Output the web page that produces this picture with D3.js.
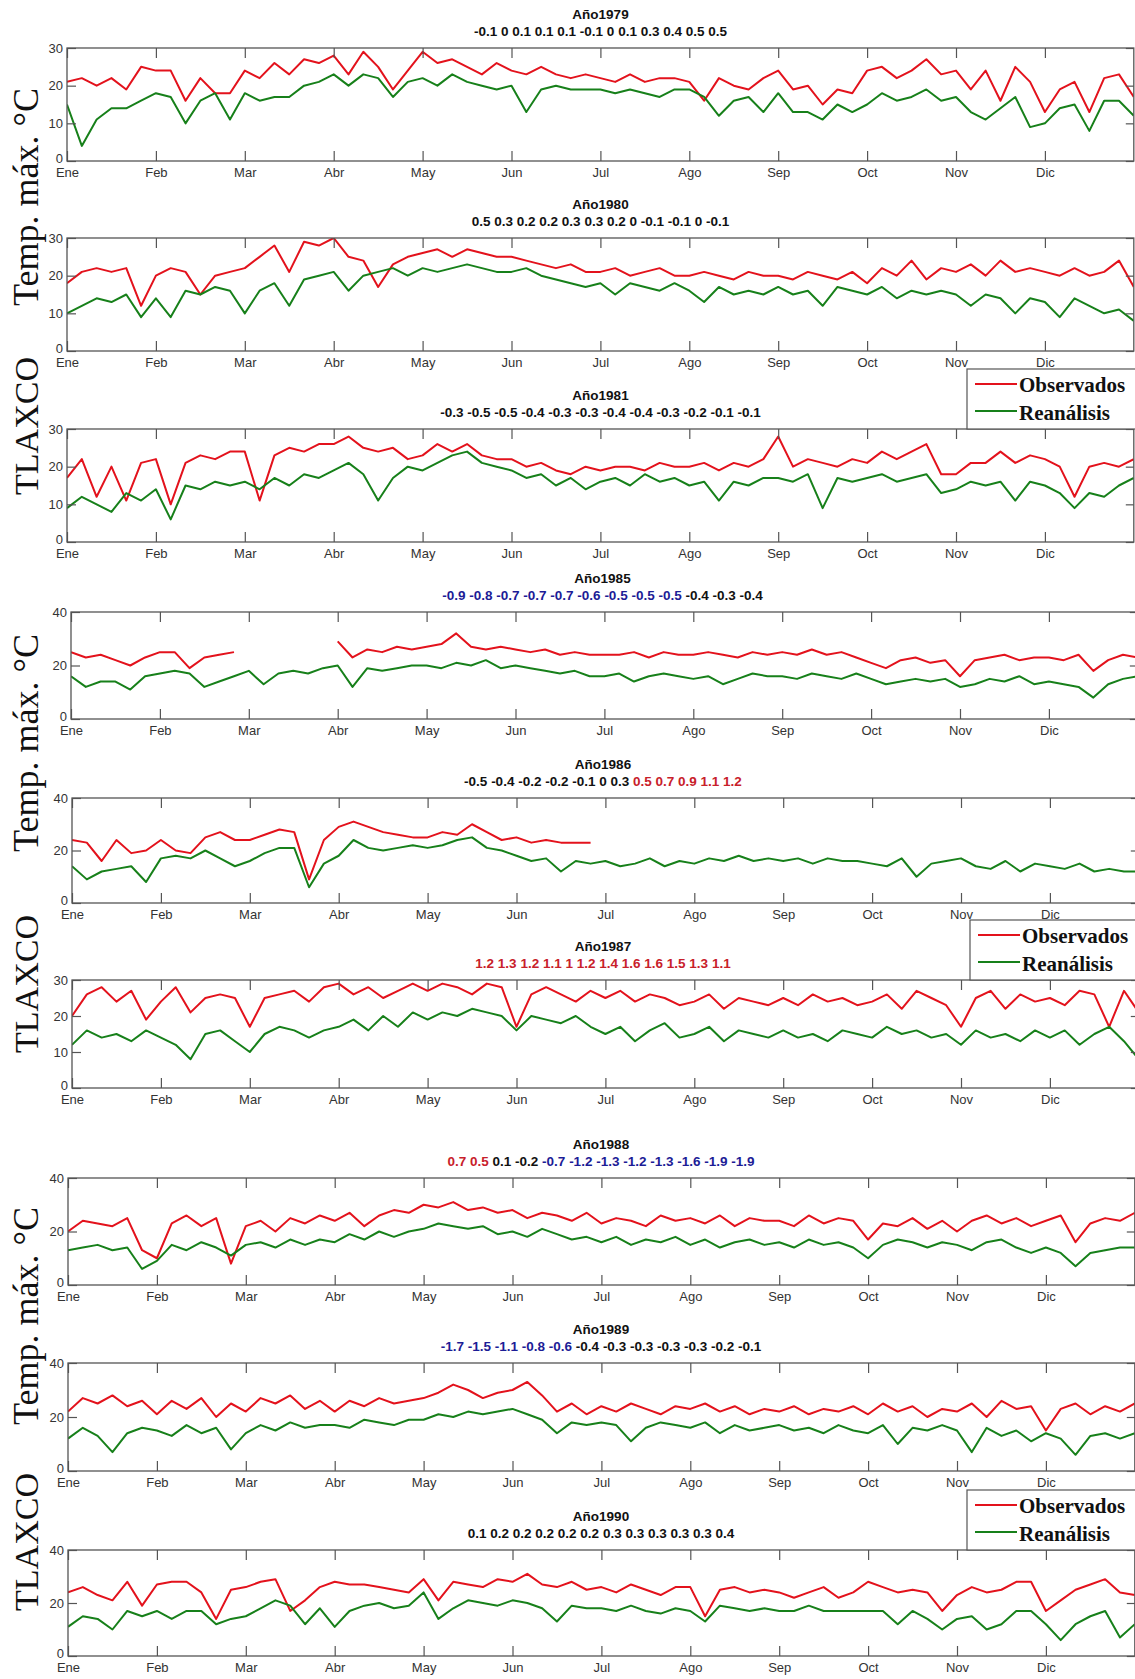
<!DOCTYPE html>
<html>
<head>
<meta charset="utf-8">
<script src="https://cdn.jsdelivr.net/npm/d3@7"></script>
<style>
  html, body { margin: 0; padding: 0; background: #fff; }
  svg { display: block; }
  .tick text { font-family: Arial, "Liberation Sans", sans-serif; font-size: 13px; fill: #333; }
  .tick line { stroke: #555; stroke-width: 1.2; }
</style>
</head>
<body>
<svg id="chart" width="1135" height="1679"></svg>
<script>
// Month labels of the x axis
const months = ["Ene","Feb","Mar","Abr","May","Jun","Jul","Ago","Sep","Oct","Nov","Dic"];
const years = [1979, 1980, 1981, 1985, 1986, 1987, 1988, 1989, 1990];

// Monthly index values printed under each year title, with their tone
// (n = neutral, w = warm, c = cold)
const idx1979 = ["-0.1","0","0.1","0.1","0.1","-0.1","0","0.1","0.3","0.4","0.5","0.5"];
const tone1979 = "nnnnnnnnnnnn";
const idx1980 = ["0.5","0.3","0.2","0.2","0.3","0.3","0.2","0","-0.1","-0.1","0","-0.1"];
const tone1980 = "nnnnnnnnnnnn";
const idx1981 = ["-0.3","-0.5","-0.5","-0.4","-0.3","-0.3","-0.4","-0.4","-0.3","-0.2","-0.1","-0.1"];
const tone1981 = "nnnnnnnnnnnn";
const idx1985 = ["-0.9","-0.8","-0.7","-0.7","-0.7","-0.6","-0.5","-0.5","-0.5","-0.4","-0.3","-0.4"];
const tone1985 = "cccccccccnnn";
const idx1986 = ["-0.5","-0.4","-0.2","-0.2","-0.1","0","0.3","0.5","0.7","0.9","1.1","1.2"];
const tone1986 = "nnnnnnnwwwww";
const idx1987 = ["1.2","1.3","1.2","1.1","1","1.2","1.4","1.6","1.6","1.5","1.3","1.1"];
const tone1987 = "wwwwwwwwwwww";
const idx1988 = ["0.7","0.5","0.1","-0.2","-0.7","-1.2","-1.3","-1.2","-1.3","-1.6","-1.9","-1.9"];
const tone1988 = "wwnncccccccc";
const idx1989 = ["-1.7","-1.5","-1.1","-0.8","-0.6","-0.4","-0.3","-0.3","-0.3","-0.3","-0.2","-0.1"];
const tone1989 = "cccccnnnnnnn";
const idx1990 = ["0.1","0.2","0.2","0.2","0.2","0.2","0.3","0.3","0.3","0.3","0.3","0.4"];
const tone1990 = "nnnnnnnnnnnn";

// Daily maximum temperature (°C), sampled every ~5 days from January to December.
// obs = station observations, rea = reanalysis. null = no observation.
const obs1979 = [21,22,20,22,19,25, 24,24,16,22,18,18, 24,22,26,23,27,26, 28,23,29,25,19,24,
  29,26,27,25,23,26, 24,23,25,23,22,23, 22,21,23,21,22,22, 21,16,22,20,19,22,
  24,19,20,15,19,18, 24,25,22,24,27,23, 24,19,24,16,25,21, 13,19,21,13,22,23,17];
const rea1979 = [15,4,11,14,14,16, 18,17,10,16,18,11, 18,16,17,17,20,21, 23,20,23,22,17,21,
  22,20,23,21,20,19, 20,13,19,20,19,19, 19,18,19,18,17,19, 19,17,12,16,17,13,
  18,13,13,11,15,13, 15,18,16,17,19,16, 17,13,11,14,17,9, 10,14,15,8,16,16,12];

const obs1980 = [18,21,22,21,22,12, 20,22,21,15,20,21, 22,25,28,21,29,28, 30,25,24,17,23,25,
  26,27,25,27,26,25, 25,24,23,22,23,21, 21,22,20,21,22,20, 20,21,20,19,21,20,
  20,19,21,20,19,21, 18,22,20,24,19,22, 21,23,20,24,21,22, 21,20,22,20,21,24,17];
const rea1980 = [10,12,14,13,15,9, 14,9,16,15,17,16, 10,16,18,12,19,20, 21,16,20,21,22,20,
  22,21,22,23,22,21, 21,22,20,19,18,17, 18,15,18,17,16,18, 16,13,17,15,16,15,
  17,15,16,12,17,16, 15,17,14,16,15,16, 15,12,15,14,10,14, 13,9,14,12,10,11,8];

const obs1981 = [17,22,12,20,11,21, 22,10,21,23,22,24, 24,11,23,25,24,26, 26,28,25,24,25,22,
  23,26,24,26,23,22, 22,20,21,19,18,20, 19,20,20,19,21,20, 20,21,19,21,20,22,
  28,20,22,21,20,22, 21,24,22,24,26,18, 18,21,21,24,21,23, 22,20,12,20,21,20,22];
const rea1981 = [9,12,10,8,13,11, 14,6,15,14,16,15, 16,14,17,15,18,17, 19,21,18,11,17,20,
  19,21,23,24,21,20, 19,17,18,15,17,14, 16,17,15,18,16,17, 15,16,11,16,15,17,
  17,16,18,9,17,16, 17,18,16,17,18,13, 14,16,15,16,11,16, 15,13,9,13,12,15,17];

const obs1985 = [25,23,24,22,20,23, 25,25,19,23,24,25, null,null,null,null,null,null, 29,23,26,25,27,26,
  27,28,32,27,26,27, 26,25,26,24,25,24, 24,24,25,23,25,24, 24,25,24,23,25,24,
  25,24,26,24,25,23, 21,19,22,23,21,22, 16,22,23,24,22,23, 23,22,24,18,22,24,23];
const rea1985 = [16,12,14,14,11,16, 17,18,17,12,14,16, 18,13,17,18,17,19, 20,12,19,18,19,20,
  20,19,21,20,22,19, 20,19,18,17,18,16, 16,17,14,16,17,16, 15,16,13,15,17,16,
  16,15,17,16,15,17, 15,13,14,15,14,15, 12,13,15,14,16,13, 14,13,12,8,13,15,16];

const obs1986 = [24,23,16,24,19,20, 24,20,19,25,27,24, 24,26,28,27,9,24, 29,31,29,27,26,25,
  25,27,26,30,27,24, 25,23,24,23,23,23, null,null,null,null,null,null, null,null,null,null,null,null,
  null,null,null,null,null,null, null,null,null,null,null,null, null,null,null,null,null,null, null,null,null,null,null,null,null];
const rea1986 = [14,9,12,13,14,8, 17,18,17,20,17,14, 16,19,21,21,6,15, 18,24,21,20,21,22,
  21,22,24,25,21,20, 18,16,17,12,16,15, 16,14,15,17,14,16, 15,17,16,18,16,17,
  16,17,15,17,16,16, 15,14,17,10,15,16, 17,14,13,16,12,15, 14,13,15,12,13,12,12];

const obs1987 = [20,26,28,24,27,19, 24,28,21,25,26,25, 17,25,26,27,24,28, 29,26,28,25,27,29,
  27,29,28,26,29,28, 17,26,28,26,24,27, 25,27,24,26,25,23, 24,26,22,25,24,23,
  25,23,26,24,25,23, 24,26,22,27,25,23, 17,25,27,22,26,24, 25,23,27,26,17,27,21];
const rea1987 = [12,16,14,15,13,16, 14,12,8,15,16,13, 10,15,17,16,14,16, 17,19,16,20,17,21,
  19,21,20,22,21,20, 16,20,19,18,20,17, 15,17,13,16,18,14, 15,17,13,16,15,14,
  16,14,15,13,16,15, 14,17,15,16,14,15, 12,16,14,15,13,16, 14,16,12,15,17,13,8];

const obs1988 = [20,24,23,22,25,13, 10,23,26,22,25,8, 22,24,20,25,23,26, 24,27,22,26,28,27,
  30,29,31,28,29,27, 28,25,27,26,24,27, 23,25,24,22,26,24, 25,23,26,22,25,24,
  24,22,26,23,25,24, 17,23,22,25,21,24, 20,24,26,23,25,22, 24,26,16,23,25,24,27];
const rea1988 = [13,14,15,13,14,6, 9,15,13,16,14,11, 15,16,14,17,15,17, 16,19,17,20,18,20,
  21,23,22,21,22,19, 20,18,21,19,17,18, 16,18,15,17,16,18, 15,17,14,16,17,15,
  16,14,17,15,16,14, 10,15,17,16,14,16, 15,13,16,17,14,12, 14,12,7,12,13,14,14];

const obs1989 = [22,27,25,28,24,26, 21,26,23,27,20,25, 22,27,25,28,23,26, 22,26,24,27,25,26,
  27,29,32,30,27,29, 30,33,28,22,25,21, 24,22,25,23,21,24, 23,25,22,24,21,23,
  22,24,21,23,22,24, 21,25,22,24,20,23, 22,25,20,26,23,24, 15,23,25,21,24,22,25];
const rea1989 = [12,16,13,7,14,16, 15,13,17,14,16,8, 14,17,15,18,16,17, 17,16,19,18,17,19,
  19,21,20,22,21,22, 23,21,19,14,18,17, 18,17,11,16,18,17, 16,18,14,17,15,16,
  17,15,16,14,17,15, 14,17,10,16,15,17, 15,7,16,13,15,11, 14,12,6,13,14,12,14];

const obs1990 = [24,26,23,21,28,19, 27,28,28,24,14,25, 26,28,29,17,21,26, 28,27,27,26,25,24,
  29,21,28,27,26,29, 28,31,27,26,28,25, 26,24,27,25,23,26, 26,15,25,26,24,25,
  24,22,24,26,22,24, 28,26,24,25,24,17, 23,26,24,25,28,28, 17,21,25,27,29,24,23];
const rea1990 = [11,15,14,10,17,15, 17,14,17,17,12,14, 15,18,21,19,12,18, 11,17,19,20,18,19,
  24,14,18,21,20,19, 21,20,18,13,19,18, 18,17,19,17,16,18, 17,13,19,18,17,18,
  17,17,19,17,17,17, 17,17,12,17,14,10, 14,15,10,12,17,17, 12,6,12,15,17,7,12];

const seriesByYear = {
  1979: [obs1979, rea1979, idx1979, tone1979], 1980: [obs1980, rea1980, idx1980, tone1980],
  1981: [obs1981, rea1981, idx1981, tone1981], 1985: [obs1985, rea1985, idx1985, tone1985],
  1986: [obs1986, rea1986, idx1986, tone1986], 1987: [obs1987, rea1987, idx1987, tone1987],
  1988: [obs1988, rea1988, idx1988, tone1988], 1989: [obs1989, rea1989, idx1989, tone1989],
  1990: [obs1990, rea1990, idx1990, tone1990]
};

// Panel frames
const frames = [
  {left: 67, top: 48,   bottom: 161,  ymax: 30},
  {left: 67, top: 238,  bottom: 351,  ymax: 30},
  {left: 67, top: 429,  bottom: 542,  ymax: 30},
  {left: 71, top: 612,  bottom: 719,  ymax: 40},
  {left: 72, top: 798,  bottom: 903,  ymax: 40},
  {left: 72, top: 980,  bottom: 1088, ymax: 30},
  {left: 68, top: 1178, bottom: 1285, ymax: 40},
  {left: 68, top: 1363, bottom: 1471, ymax: 40},
  {left: 68, top: 1550, bottom: 1656, ymax: 40}
];
const monthStep = 88.9;
const RED = "#e3121c", GREEN = "#17801a";
const toneColor = {n: "#111", w: "#c8202a", c: "#1c1c96"};

const svg = d3.select("#chart");

years.forEach((yr, k) => {
  const f = frames[k];
  const [obs, rea, idx, tone] = seriesByYear[yr];
  const right = f.left + 12 * monthStep;
  const x = d3.scaleLinear().domain([0, 12]).range([f.left, right]);
  const y = d3.scaleLinear().domain([0, f.ymax]).range([f.bottom, f.top]);
  const yTicks = f.ymax === 30 ? [0, 10, 20, 30] : [0, 20, 40];
  const g = svg.append("g");

  // titles
  const cx = (f.left + 1134) / 2;
  g.append("text").attr("x", cx).attr("y", f.top - 29)
    .attr("text-anchor", "middle")
    .style("font", "bold 13.5px Arial, 'Liberation Sans', sans-serif").style("fill", "#111")
    .text("Año" + yr);
  const t = g.append("text").attr("x", cx).attr("y", f.top - 12)
    .attr("text-anchor", "middle")
    .style("font", "bold 13.5px Arial, 'Liberation Sans', sans-serif");
  idx.forEach((v, i) => {
    t.append("tspan").style("fill", toneColor[tone[i]])
      .text(v + (i < idx.length - 1 ? " " : ""));
  });

  // lines
  const line = (arr) => d3.line()
    .defined(d => d !== null)
    .x((d, i) => x(i * 12 / (arr.length - 1)))
    .y(d => y(d));
  const clipId = "clip" + yr;
  g.append("clipPath").attr("id", clipId).append("rect")
    .attr("x", f.left).attr("y", f.top).attr("width", right - f.left).attr("height", f.bottom - f.top);
  const lines = g.append("g").attr("clip-path", `url(#${clipId})`);
  lines.append("path").datum(obs).attr("d", line(obs))
    .attr("fill", "none").attr("stroke", RED).attr("stroke-width", 2).attr("stroke-linejoin", "round");
  lines.append("path").datum(rea).attr("d", line(rea))
    .attr("fill", "none").attr("stroke", GREEN).attr("stroke-width", 2).attr("stroke-linejoin", "round");

  // axes with inward ticks
  const monthTicks = d3.range(12);
  g.append("g").attr("transform", `translate(0,${f.bottom})`)
    .call(d3.axisBottom(x).tickValues(monthTicks).tickFormat(i => months[i])
      .tickSizeInner(-10).tickSizeOuter(0).tickPadding(7))
    .call(a => a.select(".domain").remove());
  g.append("g").attr("transform", `translate(0,${f.top})`)
    .call(d3.axisTop(x).tickValues(monthTicks).tickFormat("").tickSizeInner(-10).tickSizeOuter(0))
    .call(a => a.select(".domain").remove());
  g.append("g").attr("transform", `translate(${f.left},0)`)
    .call(d3.axisLeft(y).tickValues(yTicks).tickSizeInner(-9).tickSizeOuter(0).tickPadding(4))
    .call(a => a.select(".domain").remove())
    .call(a => a.selectAll(".tick text").filter(v => v === 0).attr("dy", "0.1em"));
  g.append("g").attr("transform", `translate(${right},0)`)
    .call(d3.axisRight(y).tickValues(yTicks).tickFormat("").tickSizeInner(-8).tickSizeOuter(0))
    .call(a => a.select(".domain").remove());

  g.append("rect").attr("x", f.left).attr("y", f.top)
    .attr("width", right - f.left).attr("height", f.bottom - f.top)
    .attr("fill", "none").attr("stroke", "#555").attr("stroke-width", 1.3);
});

// legends
const legendTops = [369, 920, 1490];
const legendLefts = [967, 970, 967];
legendTops.forEach((top, i) => {
  const left = legendLefts[i];
  const lg = svg.append("g");
  lg.append("rect").attr("x", left).attr("y", top).attr("width", 1140 - left).attr("height", 60)
    .attr("fill", "#fff").attr("stroke", "#555").attr("stroke-width", 1.2);
  [["Observados", RED, 15, 23], ["Reanálisis", GREEN, 42, 51]].forEach(([label, col, ly, ty]) => {
    lg.append("line").attr("x1", left + 8).attr("x2", left + 50)
      .attr("y1", top + ly).attr("y2", top + ly).attr("stroke", col).attr("stroke-width", 2);
    lg.append("text").attr("x", left + 52).attr("y", top + ty)
      .style("font", "bold 21px 'Times New Roman', 'Liberation Serif', serif").style("fill", "#111")
      .text(label);
  });
});

// rotated axis titles
const yTitles = [
  {text: "Temp. máx. °C", cy: 197}, {text: "TLAXCO", cy: 426},
  {text: "Temp. máx. °C", cy: 743}, {text: "TLAXCO", cy: 984},
  {text: "Temp. máx. °C", cy: 1316}, {text: "TLAXCO", cy: 1542}
];
yTitles.forEach(d => {
  svg.append("text")
    .attr("transform", `translate(38,${d.cy}) rotate(-90)`)
    .attr("text-anchor", "middle")
    .style("font", d.text === "TLAXCO" ? "34px 'Times New Roman', 'Liberation Serif', serif"
                                       : "36px 'Times New Roman', 'Liberation Serif', serif")
    .style("fill", "#111")
    .text(d.text);
});
</script>
</body>
</html>
